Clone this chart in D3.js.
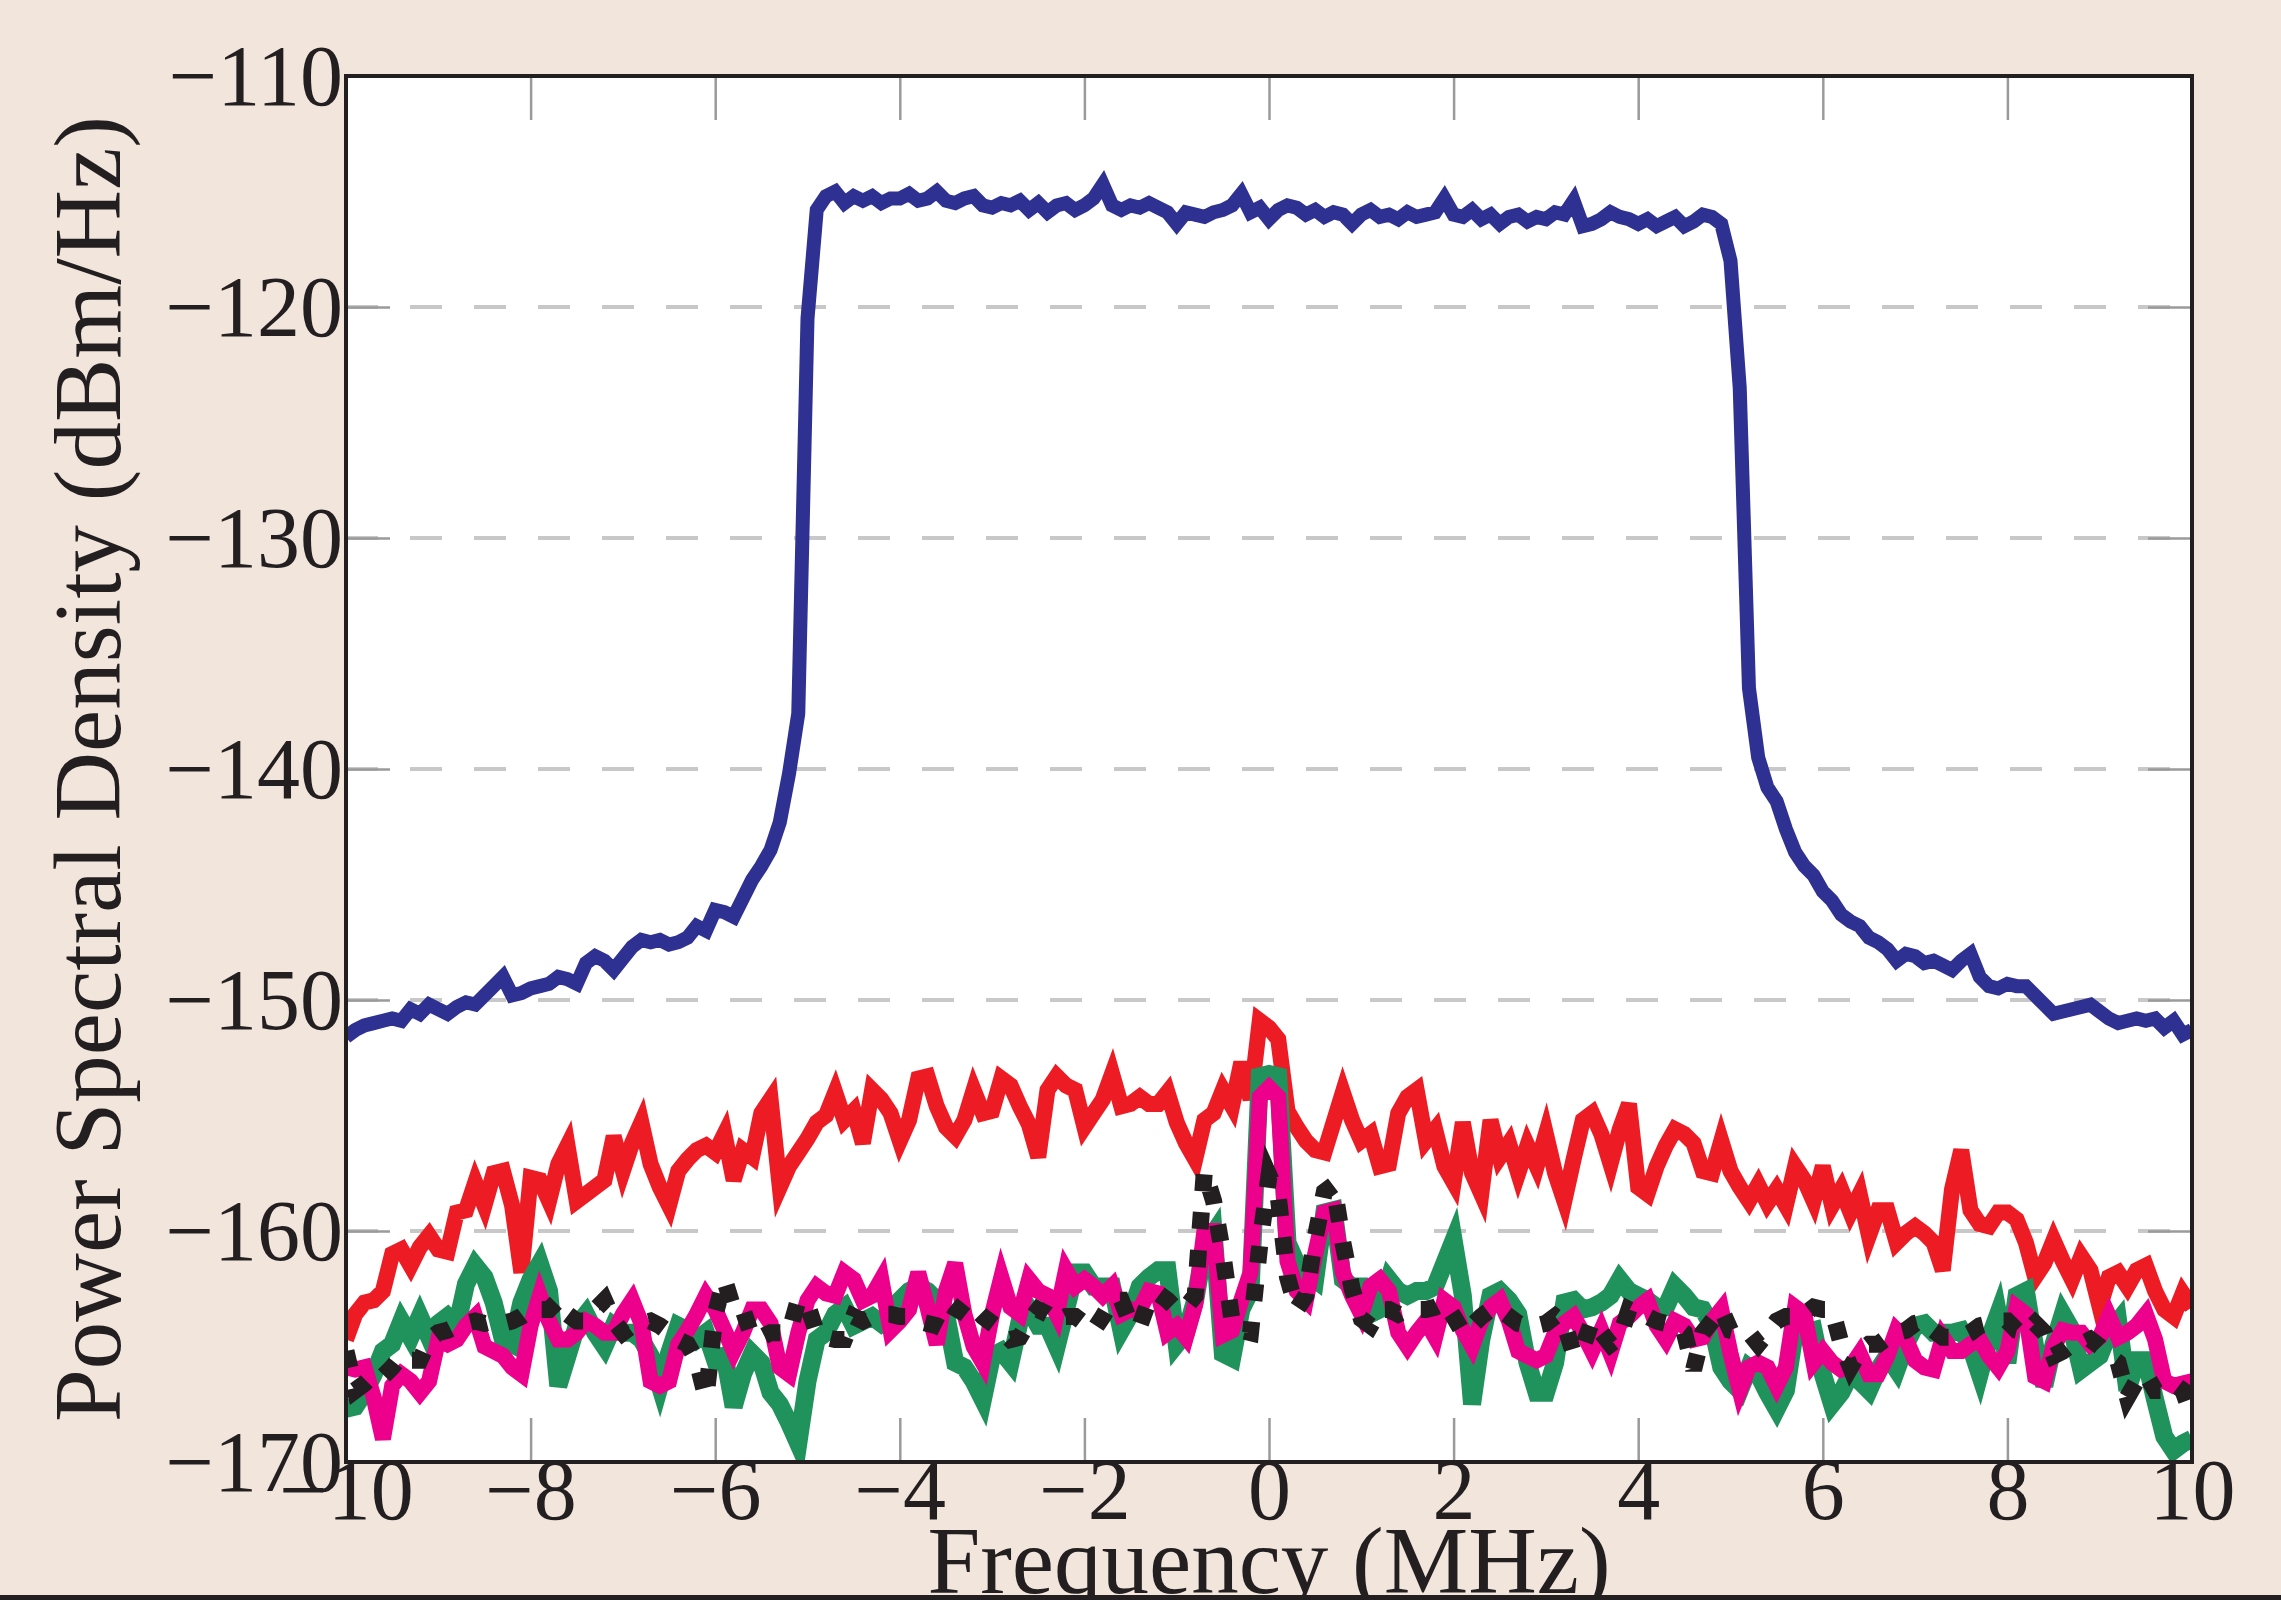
<!DOCTYPE html>
<html><head><meta charset="utf-8">
<script src="https://cdn.jsdelivr.net/npm/d3@7"></script>
<style>html,body{margin:0;padding:0;background:#F1E5DC;} svg{display:block;}</style>
</head><body><svg id="chart" width="2281" height="1600"></svg>
<script>
// ---------- data ----------
const freqStart = -10, freqStep = 0.1, nPoints = 201;
const frequency = d3.range(nPoints).map(i => +(freqStart + i * freqStep).toFixed(1));
const xTickValues = [-10, -8, -6, -4, -2, 0, 2, 4, 6, 8, 10];
const yTickValues = [-170, -160, -150, -140, -130, -120, -110];
const gridValues = [-160, -150, -140, -130, -120];
const xLabel = "Frequency (MHz)";
const yLabel = "Power Spectral Density (dBm/Hz)";

const psdBlue = [
-151.6,-151.3,-151.1,-151.0,-150.9,-150.8,-150.9,-150.4,-150.6,-150.2,
-150.4,-150.6,-150.3,-150.1,-150.2,-149.8,-149.4,-149.0,-149.8,-149.7,
-149.5,-149.4,-149.3,-149.0,-149.1,-149.3,-148.4,-148.1,-148.3,-148.7,
-148.2,-147.7,-147.4,-147.5,-147.4,-147.6,-147.5,-147.3,-146.8,-147.0,
-146.1,-146.2,-146.4,-145.6,-144.8,-144.2,-143.5,-142.3,-140.2,
-137.6,-120.5,-115.8,-115.2,
-115.0,-115.5,-115.2,-115.4,-115.2,-115.5,-115.3,-115.3,-115.1,-115.4,
-115.3,-115.0,-115.4,-115.5,-115.3,-115.2,-115.6,-115.7,-115.5,-115.6,
-115.4,-115.8,-115.5,-115.9,-115.6,-115.5,-115.8,-115.6,-115.3,-114.7,
-115.6,-115.8,-115.6,-115.7,-115.5,-115.7,-115.9,-116.4,-115.9,-116.0,
-116.1,-115.9,-115.8,-115.6,-115.1,-115.9,-115.7,-116.2,-115.8,-115.6,
-115.7,-116.0,-115.8,-116.1,-115.9,-116.0,-116.4,-116.0,-115.8,-116.1,
-116.0,-116.2,-115.9,-116.1,-116.0,-115.9,-115.3,-116.0,-116.1,-115.8,
-116.2,-116.0,-116.4,-116.1,-116.0,-116.3,-116.1,-116.2,-115.9,-116.0,
-115.4,-116.5,-116.4,-116.2,-115.9,-116.1,-116.2,-116.4,-116.2,-116.5,
-116.3,-116.1,-116.5,-116.3,-116.0,
-116.1,-116.4,-118.0,-123.5,-136.5,
-139.5,-140.8,-141.4,-142.6,-143.6,-144.2,-144.6,-145.3,-145.7,-146.3,
-146.6,-146.8,-147.3,-147.5,-147.8,-148.3,-148.0,-148.1,-148.4,-148.3,
-148.5,-148.7,-148.3,-148.0,-149.0,-149.4,-149.5,-149.3,-149.4,-149.4,
-149.8,-150.2,-150.6,-150.5,-150.4,-150.3,-150.2,-150.5,-150.8,-151.0,
-150.9,-150.8,-150.9,-150.8,-151.2,-150.9,-151.5,-151.3
];

const psdRed = [
-164.7,-163.6,-163.1,-163.0,-162.6,-161.0,-160.8,-161.5,-160.7,-160.2,
-160.8,-160.9,-159.2,-159.1,-157.9,-158.9,-157.5,-157.4,-158.9,-161.8,
-157.7,-157.8,-158.7,-157.1,-156.3,-158.7,-158.4,-158.1,-157.8,-155.9,
-157.4,-156.2,-155.3,-157.1,-158.1,-158.9,-157.4,-156.9,-156.5,-156.3,
-156.6,-155.8,-157.8,-156.5,-156.8,-154.9,-154.3,-158.1,-157.2,-156.6,
-156.0,
-155.3,-155.0,-154.0,-155.2,-154.8,-156.2,-153.9,-154.3,-154.9,-156.1,
-155.2,-153.4,-153.3,-154.6,-155.5,-155.9,-155.2,-153.9,-154.9,-154.8,
-153.4,-153.7,-154.6,-155.4,-156.8,-153.9,-153.3,-153.7,-153.9,-155.5,
-154.9,-154.3,-153.2,-154.6,-154.5,-154.2,-154.5,-154.5,-154.0,-155.3,
-156.2,-156.9,-155.2,-154.9,-153.9,-154.6,-152.7,-154.3,-150.9,-151.2,
-151.7,-154.8,-155.5,-156.1,-156.5,-156.6,-155.3,-154.0,-155.2,-156.1,
-155.8,-157.2,-157.1,-154.9,-154.2,-153.9,-156.1,-155.6,-157.2,-157.9,
-155.3,-157.5,-158.4,-155.2,-156.8,-156.2,-157.5,-156.3,-157.2,-155.8,
-157.5,-158.7,-156.9,-155.2,-154.9,-155.8,-157.1,-155.6,-154.5,-158.1,
-158.4,-157.2,-156.3,-155.6,-155.8,-156.2,-157.4,-157.5,-156.1,-157.4,
-158.1,-158.7,-158.0,-158.8,-158.2,-158.9,-157.2,-157.8,-158.7,-157.2,
-158.9,-158.2,-159.2,-158.4,-160.2,-159.1,-159.1,-160.5,-160.1,-159.8,
-160.1,-160.5,-161.7,-158.2,-156.5,-159.1,-159.7,-159.8,-159.2,-159.2,
-159.5,-160.5,-162.0,-161.4,-160.4,-161.3,-162.1,-161.1,-161.7,-163.3,
-162.0,-161.8,-162.4,-161.7,-161.5,-162.6,-163.4,-163.7,-162.7,-163.3
];

const psdGreen = [
-167.7,-167.6,-167.0,-166.2,-165.2,-164.9,-163.9,-164.6,-163.7,-164.6,
-164.0,-163.7,-164.1,-162.3,-161.5,-162.0,-163.1,-164.7,-164.9,-163.1,
-162.1,-161.4,-162.6,-166.7,-165.4,-164.1,-163.6,-164.4,-165.0,-164.1,
-164.4,-164.4,-164.7,-165.4,-166.7,-165.3,-164.1,-164.3,-164.7,-164.4,
-165.6,-165.4,-167.6,-166.2,-165.3,-165.7,-167.0,-167.5,-168.3,-169.2,
-166.5,
-164.7,-164.4,-163.6,-163.3,-164.1,-163.9,-163.7,-164.0,-163.7,-163.0,
-162.6,-162.4,-162.6,-163.0,-163.6,-165.7,-165.9,-166.5,-167.3,-165.4,
-165.2,-165.7,-163.9,-163.4,-164.1,-164.1,-165.0,-163.4,-161.8,-161.8,
-162.4,-162.4,-162.4,-164.3,-163.6,-162.4,-162.0,-161.7,-161.7,-164.9,
-164.4,-163.0,-160.7,-160.1,-165.3,-165.5,-163.4,-162.6,-153.3,-153.2,
-153.3,-160.5,-161.4,-161.8,-162.1,-159.2,-159.1,-162.1,-162.4,-162.4,
-163.6,-163.4,-162.1,-162.6,-162.8,-162.6,-162.6,-162.4,-161.4,-160.4,
-162.8,-167.5,-164.7,-162.8,-162.6,-163.0,-163.6,-165.7,-167.0,-167.0,
-165.7,-163.1,-163.0,-163.4,-163.3,-163.1,-162.8,-162.1,-162.6,-162.8,
-163.0,-163.3,-163.3,-162.4,-162.8,-163.3,-163.4,-164.1,-165.9,-166.5,
-166.9,-165.9,-166.2,-167.0,-167.7,-166.9,-164.3,-164.4,-164.3,-166.2,
-167.5,-167.0,-166.2,-166.5,-166.9,-166.0,-165.4,-166.0,-164.9,-164.1,
-164.0,-164.4,-164.4,-164.4,-164.3,-165.0,-166.2,-164.7,-163.6,-165.7,
-162.8,-162.6,-165.0,-166.7,-164.9,-163.6,-164.3,-166.0,-165.7,-165.4,
-164.4,-163.9,-166.9,-165.6,-165.6,-167.3,-168.9,-169.5,-169.2,-169.0
];

const psdMagenta = [
-165.9,-166.0,-165.9,-167.2,-169.0,-166.7,-166.2,-166.5,-167.0,-166.5,
-164.7,-164.9,-164.7,-164.1,-163.7,-165.0,-165.2,-165.4,-165.9,-166.2,
-164.1,-162.8,-163.9,-164.7,-164.7,-164.4,-163.9,-164.1,-164.4,-164.4,
-163.6,-163.0,-164.0,-166.5,-166.7,-166.5,-164.9,-164.3,-163.6,-162.8,
-163.4,-164.3,-165.2,-164.4,-163.4,-163.4,-164.0,-165.9,-166.2,-164.4,
-163.0,
-162.4,-162.7,-162.8,-161.8,-162.1,-163.0,-162.8,-162.1,-164.3,-163.9,
-163.4,-161.8,-163.3,-164.9,-162.6,-161.4,-163.6,-165.0,-165.7,-163.6,
-162.0,-163.3,-163.6,-162.1,-162.6,-162.8,-163.6,-161.7,-162.4,-162.1,
-162.4,-162.8,-162.4,-163.6,-163.4,-163.4,-162.6,-162.7,-164.4,-164.1,
-164.6,-163.2,-160.0,-160.0,-164.5,-164.3,-163.0,-161.8,-154.2,-153.8,
-154.2,-161.3,-162.6,-163.0,-161.0,-159.2,-159.1,-161.8,-162.8,-163.6,
-162.4,-162.1,-162.6,-164.4,-165.0,-164.4,-163.9,-164.6,-163.0,-163.3,
-164.3,-165.0,-163.9,-163.3,-163.0,-163.9,-165.2,-165.4,-165.6,-165.4,
-164.4,-164.0,-163.7,-164.4,-165.2,-164.3,-165.3,-164.0,-163.7,-163.3,
-163.0,-164.1,-164.7,-163.9,-164.1,-164.7,-164.6,-163.9,-163.4,-165.3,
-166.9,-165.9,-165.7,-165.9,-166.7,-165.9,-163.3,-163.6,-165.7,-165.2,
-165.7,-166.0,-165.9,-165.3,-166.2,-166.2,-165.4,-164.3,-164.7,-165.6,
-165.9,-166.0,-164.6,-165.2,-165.2,-164.9,-164.7,-165.4,-165.9,-165.2,
-163.3,-163.6,-166.3,-166.5,-165.0,-164.3,-164.4,-164.4,-164.9,-164.6,
-163.7,-164.6,-164.4,-164.1,-163.6,-164.7,-166.5,-166.7,-166.6,-166.5
];

const psdBlackDotted = [
-165.2,-166.9,-166.6,-166.2,-166.3,-165.9,-165.4,-165.6,-165.6,-164.7,
-164.4,-164.3,-164.1,-164.0,-163.9,-164.0,-163.9,-164.0,-163.9,-163.7,
-163.4,-163.4,-163.4,-163.0,-163.6,-163.9,-163.9,-163.4,-163.0,-163.9,
-164.4,-164.1,-164.0,-163.9,-164.1,-164.4,-164.7,-164.9,-165.6,-167.2,
-163.6,-162.1,-163.4,-163.4,-164.6,-164.6,-164.4,-164.4,-164.4,-163.0,
-163.2,
-164.4,-164.6,-164.7,-164.7,-163.7,-163.9,-163.7,-163.6,-163.6,-163.7,
-163.7,-163.9,-164.0,-164.1,-164.3,-163.6,-163.1,-163.3,-163.7,-164.0,
-164.3,-164.7,-164.6,-163.9,-163.4,-163.6,-163.9,-163.7,-163.7,-164.0,
-164.3,-163.7,-163.0,-163.0,-164.0,-164.1,-163.0,-162.7,-163.0,-163.4,
-163.3,-162.8,-157.4,-158.7,-161.0,-163.9,-164.3,-164.4,-160.6,-157.6,
-158.5,-162.0,-163.4,-162.8,-160.3,-158.3,-158.0,-160.5,-162.5,-163.8,
-164.1,-163.4,-163.4,-163.6,-163.4,-163.4,-163.4,-163.3,-163.1,-163.7,
-164.4,-164.1,-163.7,-163.4,-163.4,-163.7,-164.0,-164.1,-164.1,-164.0,
-163.7,-164.0,-165.3,-165.0,-163.9,-164.4,-164.9,-164.6,-163.4,-163.6,
-163.7,-163.9,-164.0,-164.1,-164.4,-166.0,-164.4,-163.9,-163.4,-164.3,
-164.4,-164.4,-164.9,-164.4,-163.9,-163.7,-163.7,-163.6,-163.3,-163.4,
-163.4,-164.9,-165.9,-165.2,-164.9,-164.9,-164.6,-164.4,-164.3,-164.0,
-163.9,-164.3,-164.6,-164.6,-164.6,-164.4,-164.1,-164.0,-163.9,-163.9,
-164.3,-164.4,-164.0,-164.4,-165.4,-165.2,-164.9,-164.9,-164.7,-165.0,
-165.4,-165.7,-167.2,-166.5,-166.2,-166.9,-166.9,-166.6,-166.9,-168.0
];

// ---------- drawing ----------
const W = 2281, H = 1600;
const plot = {left: 346, right: 2192, top: 76, bottom: 1462};
const ink = "#231F20";
const font = "'Liberation Serif', 'Times New Roman', serif";

const x = d3.scaleLinear().domain([-10, 10]).range([plot.left, plot.right]);
const y = d3.scaleLinear().domain([-170, -110]).range([plot.bottom, plot.top]);

const svg = d3.select("#chart");
svg.append("rect").attr("width", W).attr("height", H).attr("fill", "#F1E5DC");
svg.append("rect").attr("x", plot.left).attr("y", plot.top)
  .attr("width", plot.right - plot.left).attr("height", plot.bottom - plot.top)
  .attr("fill", "#ffffff");

// grid lines
svg.append("g").selectAll("line").data(gridValues).join("line")
  .attr("x1", plot.left).attr("x2", plot.right)
  .attr("y1", d => y(d)).attr("y2", d => y(d))
  .attr("stroke", "#C8C8C8").attr("stroke-width", 4)
  .attr("stroke-dasharray", "32,32");

// inward ticks on all four sides
const tickStyle = g => {
  g.select(".domain").remove();
  g.selectAll(".tick line").attr("stroke", "#9A9A9A").attr("stroke-width", 2.5);
  g.selectAll(".tick text").remove();
};
svg.append("g").attr("transform", `translate(0,${plot.bottom})`)
  .call(d3.axisBottom(x).tickValues(xTickValues).tickSizeInner(-44).tickSizeOuter(0)).call(tickStyle);
svg.append("g").attr("transform", `translate(0,${plot.top})`)
  .call(d3.axisTop(x).tickValues(xTickValues).tickSizeInner(-44).tickSizeOuter(0)).call(tickStyle);
svg.append("g").attr("transform", `translate(${plot.left},0)`)
  .call(d3.axisLeft(y).tickValues(yTickValues).tickSizeInner(-44).tickSizeOuter(0)).call(tickStyle);
svg.append("g").attr("transform", `translate(${plot.right},0)`)
  .call(d3.axisRight(y).tickValues(yTickValues).tickSizeInner(-44).tickSizeOuter(0)).call(tickStyle);

// lines
svg.append("clipPath").attr("id", "clip").append("rect")
  .attr("x", plot.left).attr("y", plot.top)
  .attr("width", plot.right - plot.left).attr("height", plot.bottom - plot.top);

const series = [
  {values: psdBlue, color: "#2E3192", width: 14, dash: null},
  {values: psdRed, color: "#ED1C24", width: 16, dash: null},
  {values: psdGreen, color: "#20925B", width: 18, dash: null},
  {values: psdMagenta, color: "#EC008C", width: 16, dash: null},
  {values: psdBlackDotted, color: ink, width: 17, dash: "17,21"}
];
const line = d3.line().x((d, i) => x(frequency[i])).y(d => y(d));
const lg = svg.append("g").attr("clip-path", "url(#clip)");
series.forEach(s => {
  lg.append("path").datum(s.values)
    .attr("d", line)
    .attr("fill", "none")
    .attr("stroke", s.color)
    .attr("stroke-width", s.width)
    .attr("stroke-linejoin", "miter")
    .attr("stroke-miterlimit", 4)
    .attr("stroke-linecap", "butt")
    .attr("stroke-dasharray", s.dash);
});

// frame
svg.append("rect").attr("x", plot.left).attr("y", plot.top)
  .attr("width", plot.right - plot.left).attr("height", plot.bottom - plot.top)
  .attr("fill", "none").attr("stroke", ink).attr("stroke-width", 4);

// tick labels
const labelStyle = g => {
  g.select(".domain").remove();
  g.selectAll(".tick line").remove();
  g.selectAll(".tick text").attr("font-family", font).attr("font-size", 86).attr("fill", ink);
};
svg.append("g").attr("transform", `translate(${plot.left},0)`)
  .call(d3.axisLeft(y).tickValues(yTickValues).tickSize(0).tickPadding(3)).call(labelStyle)
  .selectAll(".tick text").attr("dy", "0.33em");
svg.append("g").attr("transform", `translate(0,${plot.bottom})`)
  .call(d3.axisBottom(x).tickValues(xTickValues).tickSize(0).tickPadding(-4)).call(labelStyle);

// axis titles
svg.append("text")
  .attr("transform", `translate(120,${(plot.top + plot.bottom) / 2}) rotate(-90)`)
  .attr("text-anchor", "middle")
  .attr("font-family", font).attr("font-size", 95).attr("fill", ink)
  .text(yLabel);
svg.append("text")
  .attr("x", (plot.left + plot.right) / 2).attr("y", 1593)
  .attr("text-anchor", "middle")
  .attr("font-family", font).attr("font-size", 95).attr("fill", ink)
  .text(xLabel);

// bottom rule
svg.append("rect").attr("x", 0).attr("y", 1595).attr("width", W).attr("height", 5).attr("fill", ink);
</script>
</body></html>
